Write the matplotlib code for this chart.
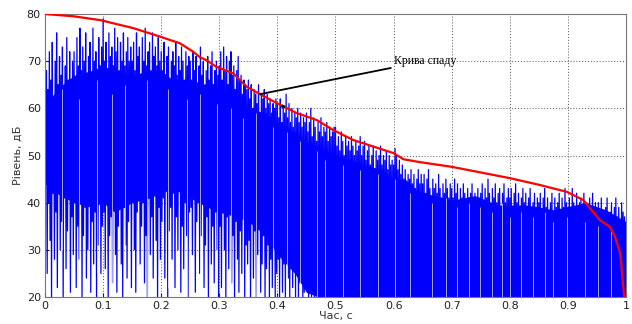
import numpy as np
import matplotlib
matplotlib.use("Agg")
import matplotlib.pyplot as plt

# decay curve (red)
decay_t = [0.0, 0.05, 0.095, 0.152, 0.198, 0.232, 0.255, 0.267, 0.278, 0.295,
           0.324, 0.347, 0.37, 0.399, 0.433, 0.468, 0.496, 0.53, 0.565, 0.6,
           0.617, 0.645, 0.7, 0.75, 0.8, 0.85, 0.898, 0.926, 0.955, 0.972,
           0.981, 0.99, 0.997]
decay_db = [80.0, 79.5, 78.7, 77.0, 75.2, 73.8, 72.0, 70.8, 70.2, 68.8,
            67.4, 64.6, 63.0, 61.1, 59.0, 57.5, 55.4, 53.3, 51.9, 50.5,
            49.2, 48.6, 47.6, 46.4, 45.2, 43.8, 42.3, 40.6, 36.3, 34.9,
            32.8, 29.3, 20.0]

# solid part of the signal (where the blue is dense)
core_t = [0.0, 0.02, 0.05, 0.08, 0.1, 0.12, 0.15, 0.18, 0.2, 0.22, 0.25,
          0.28, 0.3, 0.33, 0.35, 0.38, 0.4, 0.43, 0.45, 0.47, 0.5, 0.53,
          0.55, 0.58, 0.6, 0.62, 0.64, 0.7, 0.74, 0.78, 0.83, 0.875, 0.93,
          0.965, 1.0]
core_top = [60, 64, 67, 68, 69, 68, 67, 68, 68, 66, 66,
            65, 64, 62, 60, 59, 57, 55, 53, 52, 50, 49,
            48, 47, 45, 45, 42.5, 40.5, 41.5, 39.5, 39.5, 38.5, 40,
            38.5, 36]
core_bot = [44, 42, 40, 39, 40, 38, 40, 41, 42, 43, 41,
            39, 38, 37, 36, 33, 29, 25, 21, 20, 20, 20,
            20, 20, 20, 20, 20, 20, 20, 20, 20, 20, 20,
            20, 20]

# noisy level signal (blue): local maxima and minima, 20 per 0.05 s
peaks = [
    60, 68, 64, 72, 66, 74, 62, 70, 76, 65, 71, 67, 73, 63, 69, 75, 66, 72, 64, 70,
    72, 66, 75, 69, 77, 68, 73, 70, 76, 67, 71, 74, 66, 77, 70, 72, 68, 75, 69, 73,
    79, 70, 74, 68, 76, 71, 73, 69, 77, 72, 75, 68, 74, 70, 76, 69, 72, 75, 70, 73,
    70, 74, 68, 76, 71, 73, 67, 75, 70, 77, 69, 72, 74, 68, 76, 71, 73, 69, 75, 70,
    72, 68, 74, 67, 71, 73, 66, 70, 72, 69, 74, 67, 71, 68, 73, 70, 66, 72, 69, 71,
    70, 66, 72, 68, 71, 65, 69, 73, 67, 70, 64, 68, 71, 66, 69, 72, 65, 68, 70, 67,
    69, 72, 66, 73, 68, 71, 65, 70, 72, 67, 69, 64, 68, 71, 66, 67, 63, 66, 65, 64,
    66, 62, 65, 60, 64, 63, 61, 65, 59, 63, 62, 64, 60, 63, 61, 62, 59, 61, 60, 62,
    61, 58, 62, 57, 60, 59, 63, 58, 61, 57, 60, 56, 59, 58, 60, 57, 59, 56, 58, 57,
    59, 55, 57, 60, 54, 58, 56, 53, 57, 55, 58, 54, 56, 55, 57, 53, 56, 54, 55, 56,
    56, 52, 54, 51, 55, 53, 50, 54, 52, 53, 51, 54, 52, 50, 53, 51, 52, 54, 50, 52,
    53, 49, 51, 52, 48, 50, 52, 47, 51, 49, 50, 52, 48, 50, 49, 51, 47, 50, 48, 49,
    48, 51.5, 50, 47, 49, 46, 48, 45, 47, 44, 46, 45, 47, 44, 46, 43, 45, 47, 44, 46,
    44, 46, 42, 45, 47, 43, 41, 45, 43, 44, 42, 46, 43, 41, 44, 42, 45, 43, 41, 44,
    43, 41, 45, 42, 44, 40, 43, 41, 44, 42, 40, 43, 41, 42, 44, 40, 42, 41, 43, 41,
    42, 44, 40, 43, 41, 45, 42, 39, 43, 41, 44, 40, 42, 43, 39, 42, 44, 40, 41, 43,
    41, 43, 39, 42, 44, 40, 42, 38, 41, 43, 40, 42, 39, 41, 43, 38, 40, 42, 39, 41,
    40, 42, 38, 41, 43, 39, 41, 37, 40, 42, 38, 41, 39, 40, 42, 38, 41, 39, 43, 40,
    39, 41, 37, 43, 40, 38, 42, 36, 40, 41, 38, 42, 37, 40, 39, 41, 38, 42, 37, 40,
    37, 40, 36, 41, 38, 35, 39, 41, 37, 38, 40, 36, 39, 41, 37, 39, 36, 40, 38, 37,
]
troughs = [
    44, 25, 40, 32, 20, 42, 28, 38, 22, 45, 30, 36, 20, 41, 26, 34, 43, 21, 37, 29,
    40, 22, 35, 28, 43, 20, 33, 39, 24, 30, 42, 21, 36, 27, 38, 20, 31, 44, 25, 35,
    38, 26, 42, 20, 33, 37, 23, 40, 29, 21, 35, 44, 27, 20, 39, 31, 24, 36, 41, 22,
    42, 30, 21, 38, 45, 27, 35, 40, 23, 33, 20, 41, 29, 37, 24, 43, 32, 20, 39, 28,
    36, 41, 24, 43, 20, 34, 39, 28, 42, 22, 37, 30, 44, 21, 35, 26, 40, 33, 20, 38,
    39, 29, 43, 21, 36, 40, 25, 33, 44, 22, 31, 37, 20, 41, 27, 35, 23, 38, 30, 20,
    35, 22, 38, 30, 20, 37, 26, 40, 23, 33, 20, 36, 28, 21, 34, 25, 38, 20, 31, 27,
    32, 20, 36, 24, 34, 20, 29, 35, 21, 27, 33, 20, 26, 31, 20, 28, 22, 34, 20, 25,
    28, 20, 32, 21, 27, 20, 30, 24, 20, 26, 22, 29, 20, 25, 20, 23, 27, 20, 21, 24,
    25, 19, 28, 20, 23, 18, 26, 20, 22, 19, 24, 18, 21, 20, 25, 18, 22, 19, 20, 23,
    20, 18, 22, 18, 20, 19, 18, 21, 18, 20, 18, 19, 22, 18, 20, 18, 19, 18, 21, 18,
    18, 20, 18, 19, 18, 21, 18, 18, 20, 18, 19, 18, 22, 18, 18, 20, 18, 19, 18, 18,
    19, 18, 20, 18, 18, 21, 18, 19, 18, 18, 20, 18, 18, 22, 18, 19, 18, 18, 20, 18,
    18, 19, 18, 18, 21, 18, 20, 18, 18, 19, 18, 22, 18, 18, 19, 18, 20, 18, 18, 21,
    20, 18, 18, 19, 18, 22, 18, 18, 20, 18, 19, 18, 18, 21, 18, 18, 19, 18, 20, 18,
    18, 18, 21, 18, 19, 18, 18, 20, 18, 22, 18, 18, 19, 18, 20, 18, 18, 21, 18, 19,
    19, 18, 18, 20, 18, 18, 22, 18, 19, 18, 18, 20, 18, 18, 21, 18, 19, 18, 18, 20,
    18, 20, 18, 18, 19, 18, 21, 18, 18, 20, 18, 18, 22, 18, 19, 18, 18, 20, 18, 18,
    18, 19, 18, 21, 18, 18, 20, 18, 18, 19, 18, 22, 18, 18, 20, 18, 19, 18, 18, 21,
    20, 18, 18, 19, 18, 21, 18, 18, 20, 18, 18, 19, 18, 22, 18, 18, 20, 18, 19, 18,
]

# thin white gaps running through the dense part
gap_t = [0.029, 0.059, 0.089, 0.115, 0.138, 0.175, 0.212, 0.244, 0.267, 0.296,
         0.321, 0.341, 0.364, 0.393, 0.416, 0.439, 0.468, 0.482, 0.513, 0.542,
         0.574, 0.602, 0.628, 0.666, 0.691, 0.709, 0.729, 0.749, 0.769, 0.786,
         0.8, 0.82, 0.84, 0.86, 0.875, 0.898, 0.929, 0.952, 0.975]
gap_hi = [64, 62, 66, 63, 65, 66, 64, 62, 63, 61, 60, 58, 59, 56, 55, 53, 51, 49,
          48, 47, 46, 45, 42, 40, 41, 39, 40, 39, 38, 40, 37, 38, 37, 38, 36, 37,
          36, 35, 34]
gap_lo = [30, 20, 25, 20, 28, 20, 22, 20, 20, 24, 20, 20, 20, 20, 20, 20, 20, 20,
          20, 20, 20, 20, 20, 20, 20, 20, 20, 20, 20, 20, 20, 20, 20, 20, 20, 20,
          20, 20, 20]

sig_db = np.ravel(np.column_stack([peaks, troughs]))
sig_t = np.arange(len(sig_db)) * (1.0 / len(sig_db))

fig = plt.figure(figsize=(6.32, 3.24), dpi=100)
ax = fig.add_axes([0.0712, 0.0833, 0.9193, 0.8735])

ax.fill_between(core_t, core_bot, core_top, color="#0000ff", lw=0)
ax.plot(sig_t, sig_db, color="#0000ff", lw=0.9)
ax.vlines(gap_t, gap_lo, gap_hi, color="white", lw=0.6, alpha=0.75, zorder=3)
ax.plot(decay_t, decay_db, color="#ff0000", lw=1.6, zorder=4)

ax.set_xlim(0, 1)
ax.set_ylim(20, 80)
ax.set_xticks(np.arange(0, 1.01, 0.1))
ax.set_xticklabels(["0", "0.1", "0.2", "0.3", "0.4", "0.5", "0.6", "0.7", "0.8", "0.9", "1"])
ax.set_yticks(np.arange(20, 81, 10))
ax.tick_params(direction="in", length=3, labelsize=8, colors="#222222", pad=3)
ax.grid(True, color="#555555", linestyle=(0, (1, 2)), linewidth=0.7)
ax.set_axisbelow(True)
for sp in ax.spines.values():
    sp.set_edgecolor("#777777")

ax.set_xlabel("Час, с", fontsize=8, color="#333333", labelpad=0)
ax.set_ylabel("Рівень, дБ", fontsize=8, color="#333333", labelpad=3)

ax.annotate("Крива спаду", xy=(0.37, 63.0), xytext=(0.6, 70.0),
            fontsize=8.5, family="Liberation Serif", va="center", ha="left",
            arrowprops=dict(arrowstyle="-", color="black", lw=1.3, shrinkA=0, shrinkB=0),
            zorder=5)
ax.plot([0.41], [60.6], marker=">", color="black", ms=2, zorder=5)

fig.savefig("out.png", dpi=100)
